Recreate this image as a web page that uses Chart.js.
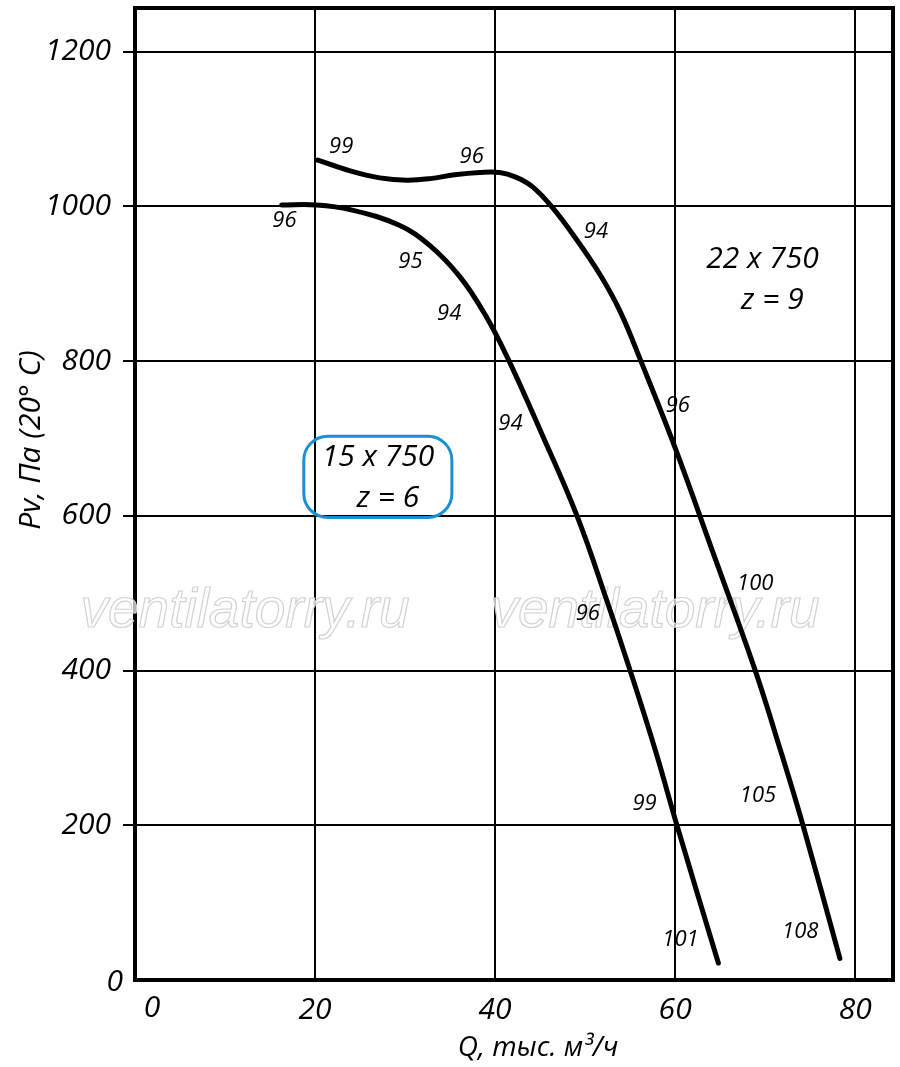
<!DOCTYPE html>
<html>
<head>
<meta charset="utf-8">
<script src="https://cdn.jsdelivr.net/npm/chart.js@4/dist/chart.umd.min.js"></script>
<style>
html,body{margin:0;padding:0;background:#fff;}
#wrap{width:900px;height:1067px;position:relative;}
</style>
</head>
<body>
<div id="wrap"><canvas id="c"></canvas></div>
<script>
// ---- data ----
const xTicks = [0, 20, 40, 60, 80];
const yTicks = [0, 200, 400, 600, 800, 1000, 1200];

// 15 x 750, z = 6
const q15 = [16.3, 20.1, 23.9, 29.3, 32.7, 36.1, 38.9, 41.4, 45.0, 49.1, 52.4, 55.0, 57.8, 60.2, 64.8];
const p15 = [1002, 1002, 996, 976, 950, 909, 860, 804, 711, 600, 491, 400, 297, 200, 22];

// 22 x 750, z = 9
const q22 = [20.3, 23.9, 27.2, 30.2, 32.8, 35.5, 38.3, 40.5, 42.3, 44.1, 46.2, 49.0, 51.7, 53.9, 56.2, 60.0, 64.1, 68.9, 71.7, 74.2, 78.3];
const p22 = [1060, 1046, 1037, 1034, 1036, 1041, 1044, 1044, 1038, 1026, 1001, 958, 911, 864, 800, 688, 556, 400, 297, 200, 28];

// point labels along the curves: text, Q, Pv
const labels15 = ["96", "95", "94", "94", "96", "99", "101"];
const labels15Q = [16.6, 30.6, 34.9, 41.7, 50.3, 56.6, 60.6];
const labels15P = [981, 928, 861, 719, 473, 228, 52];

const labels22 = ["99", "96", "94", "96", "100", "105", "108"];
const labels22Q = [22.9, 37.4, 51.2, 60.3, 68.9, 69.2, 73.9];
const labels22P = [1077, 1064, 968, 743, 512, 238, 62];

const name15 = ["15 x 750", "z = 6"];
const name22 = ["22 x 750", "z = 9"];

const xTitle = "Q, тыс. м³/ч";
const yTitle = "Pv, Па (20° C)";
const watermark = "ventilatorry.ru";

const FONT = '"Open Sans", "Noto Sans", sans-serif';

const toPts = (xs, ys) => xs.map((x, i) => ({x: x, y: ys[i]}));

const decor = {
  id: 'decor',
  beforeDatasetsDraw(chart) {
    const ctx = chart.ctx;
    ctx.save();
    ctx.font = 'italic 300 55px "Liberation Sans", Arial, sans-serif';
    ctx.textAlign = 'center';
    ctx.textBaseline = 'middle';
    ctx.fillStyle = 'rgba(255,255,255,0.7)';
    ctx.strokeStyle = '#d2d2d2';
    ctx.lineWidth = 1.2;
    [245, 655].forEach(cx => {
      ctx.fillText(watermark, cx, 612);
      ctx.strokeText(watermark, cx, 612);
    });
    ctx.restore();
  },
  afterDraw(chart) {
    const ctx = chart.ctx;
    const ca = chart.chartArea;
    const xs = chart.scales.x, ys = chart.scales.y;
    ctx.save();
    // frame top and right
    ctx.strokeStyle = '#000';
    ctx.lineWidth = 4;
    ctx.beginPath();
    ctx.moveTo(ca.left - 2, ca.top);
    ctx.lineTo(ca.right, ca.top);
    ctx.lineTo(ca.right, ca.bottom + 2);
    ctx.stroke();

    ctx.fillStyle = '#000';
    // zero labels
    ctx.font = 'italic 30px ' + FONT;
    ctx.textBaseline = 'middle';
    ctx.textAlign = 'right';
    ctx.fillText('0', xs.getPixelForValue(0) - 12, ys.getPixelForValue(0) + 2);
    ctx.textAlign = 'center';
    ctx.fillText('0', xs.getPixelForValue(0) + 17, ys.getPixelForValue(0) + 28);

    // axis titles
    ctx.textAlign = 'center';
    ctx.textBaseline = 'middle';
    ctx.font = 'italic 28px ' + FONT;
    ctx.fillText(xTitle, 538, 1048);
    ctx.save();
    ctx.font = 'italic 30px ' + FONT;
    ctx.translate(31, 440);
    ctx.rotate(-Math.PI / 2);
    ctx.fillText(yTitle, 0, 0);
    ctx.restore();

    // curve point labels
    ctx.font = 'italic 22px ' + FONT;
    labels15.forEach((t, i) => ctx.fillText(t, xs.getPixelForValue(labels15Q[i]), ys.getPixelForValue(labels15P[i])));
    labels22.forEach((t, i) => ctx.fillText(t, xs.getPixelForValue(labels22Q[i]), ys.getPixelForValue(labels22P[i])));

    // curve names
    ctx.font = 'italic 30px ' + FONT;
    ctx.fillText(name22[0], xs.getPixelForValue(69.7), ys.getPixelForValue(931));
    ctx.fillText(name22[1], xs.getPixelForValue(70.8), ys.getPixelForValue(879));
    ctx.fillText(name15[0], xs.getPixelForValue(27), ys.getPixelForValue(675));
    ctx.fillText(name15[1], xs.getPixelForValue(28.1), ys.getPixelForValue(623));

    // blue rounded box around 15 x 750
    const bx0 = xs.getPixelForValue(18.75), bx1 = xs.getPixelForValue(35.2);
    const by0 = ys.getPixelForValue(703), by1 = ys.getPixelForValue(598);
    ctx.strokeStyle = '#1a8fd6';
    ctx.lineWidth = 3;
    ctx.beginPath();
    ctx.roundRect(bx0, by0, bx1 - bx0, by1 - by0, 24);
    ctx.stroke();
    ctx.restore();
  }
};

new Chart(document.getElementById('c'), {
  type: 'scatter',
  data: {
    datasets: [
      {data: toPts(q15, p15), showLine: true, borderColor: '#000', borderWidth: 5, pointRadius: 0, tension: 0.4, borderCapStyle: 'round', borderJoinStyle: 'round', fill: false},
      {data: toPts(q22, p22), showLine: true, borderColor: '#000', borderWidth: 5, pointRadius: 0, tension: 0.4, borderCapStyle: 'round', borderJoinStyle: 'round', fill: false}
    ]
  },
  options: {
    responsive: true,
    maintainAspectRatio: false,
    animation: false,
    layout: {padding: {top: 8, right: 7, left: 0, bottom: 0}},
    plugins: {legend: {display: false}, tooltip: {enabled: false}},
    scales: {
      x: {
        type: 'linear', min: 0, max: 84.2,
        afterFit: s => { s.height = 87; s.paddingLeft = 0; s.paddingRight = 0; },
        afterBuildTicks: s => { s.ticks = xTicks.map(v => ({value: v})); },
        grid: {color: '#000', lineWidth: 2, drawTicks: false},
        border: {color: '#000', width: 4},
        ticks: {
          color: '#000', padding: 12,
          font: {family: FONT, size: 30, style: 'italic'},
          callback: v => v === 0 ? '' : String(v)
        }
      },
      y: {
        type: 'linear', min: 0, max: 1256.6,
        afterFit: s => { s.width = 135; s.paddingTop = 0; s.paddingBottom = 0; },
        afterBuildTicks: s => { s.ticks = yTicks.map(v => ({value: v})); },
        grid: {color: '#000', lineWidth: 2, drawTicks: true, tickLength: 12,
               tickColor: c => (c.tick && c.tick.value === 0) ? 'rgba(0,0,0,0)' : '#000'},
        border: {color: '#000', width: 4},
        ticks: {
          color: '#000', padding: 12,
          font: {family: FONT, size: 30, style: 'italic'},
          callback: v => v === 0 ? '' : String(v)
        }
      }
    }
  },
  plugins: [decor]
});
</script>
</body>
</html>
